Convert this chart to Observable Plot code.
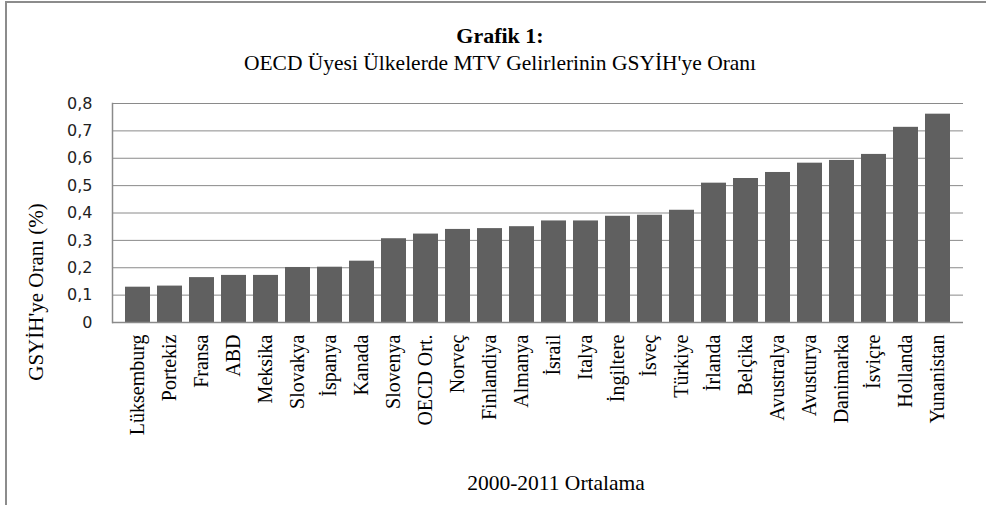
<!DOCTYPE html>
<html>
<head>
<meta charset="utf-8">
<script src="https://cdn.jsdelivr.net/npm/d3@7"></script>
<script src="https://cdn.jsdelivr.net/npm/@observablehq/plot@0.6"></script>
<style>
  html, body { margin: 0; padding: 0; background: #fff; }
  #wrap { position: relative; width: 986px; height: 505px; overflow: hidden; background: #fff; }
  #wrap svg { position: absolute; left: 0; top: 0; }
  .t { position: absolute; font-family: 'Liberation Serif', serif; color: #000; white-space: nowrap; transform: translate(-50%, -50%); line-height: 1; }
  #borderTop { position: absolute; left: 5px; top: 1px; width: 981px; height: 2px; background: #8c8c8c; }
  #borderLeft { position: absolute; left: 5px; top: 1px; width: 2px; height: 504px; background: #8c8c8c; }
</style>
</head>
<body>
<div id="wrap">
  <div id="borderTop"></div>
  <div id="borderLeft"></div>
  <div class="t" id="title" style="left:500px;top:36px;font-size:22px;font-weight:bold;font-family:'Liberation Serif',serif;">Grafik 1:</div>
  <div class="t" id="subtitle" style="left:500px;top:64px;font-size:21.5px;font-family:'Liberation Serif',serif;">OECD Üyesi Ülkelerde MTV Gelirlerinin GSYİH'ye Oranı</div>
  <div class="t" id="xtitle" style="left:556px;top:484px;font-size:21.5px;font-family:'Liberation Serif',serif;">2000-2011 Ortalama</div>
  <div class="t" id="ytitle" style="left:36px;top:292px;font-size:21px;font-family:'Liberation Serif',serif;transform:translate(-50%,-50%) rotate(-90deg);">GSYİH'ye Oranı (%)</div>
</div>
<script>
const categories = ["Lüksemburg","Portekiz","Fransa","ABD","Meksika","Slovakya","İspanya","Kanada","Slovenya","OECD Ort.","Norveç","Finlandiya","Almanya","İsrail","Italya","İngiltere","İsveç","Türkiye","İrlanda","Belçika","Avustralya","Avusturya","Danimarka","İsviçre","Hollanda","Yunanistan"];
const values = [0.129,0.133,0.164,0.172,0.172,0.201,0.202,0.224,0.306,0.323,0.340,0.343,0.350,0.371,0.371,0.388,0.392,0.410,0.509,0.526,0.548,0.582,0.592,0.614,0.713,0.761];
const yTicks = [0,0.1,0.2,0.3,0.4,0.5,0.6,0.7,0.8];
const yTickLabels = ["0","0,1","0,2","0,3","0,4","0,5","0,6","0,7","0,8"];

const data = categories.map((c, i) => ({name: c, value: values[i]}));

const chart = Plot.plot({
  width: 986,
  height: 505,
  marginLeft: 112,
  marginRight: 23,
  marginTop: 103,
  marginBottom: 183,
  style: {background: "transparent"},
  x: {type: "band", domain: categories, paddingInner: 0.23, paddingOuter: 0.11, label: null},
  y: {domain: [0, 0.8], label: null},
  marks: [
    Plot.gridY(yTicks, {stroke: "#8a8a8a", strokeOpacity: 1, strokeWidth: 1}),
    Plot.barY(data, {x: "name", y: "value", fill: "#606060"}),
    Plot.ruleY([0], {stroke: "#8a8a8a", strokeWidth: 1.5}),
    Plot.frame({anchor: "left", stroke: "#8a8a8a", strokeWidth: 1.5}),
    Plot.axisY(yTicks, {
      tickSize: 0, tickPadding: 20,
      tickFormat: (d) => yTickLabels[yTicks.indexOf(d)],
      fontSize: 16, fontFamily: "DejaVu Sans", fill: "#222", label: null
    }),
    Plot.axisX({
      tickSize: 0, tickPadding: 12, tickRotate: -90,
      fontSize: 20, fontFamily: "Liberation Serif", fill: "#000", label: null
    })
  ]
});
document.getElementById("wrap").appendChild(chart);
</script>
</body>
</html>
